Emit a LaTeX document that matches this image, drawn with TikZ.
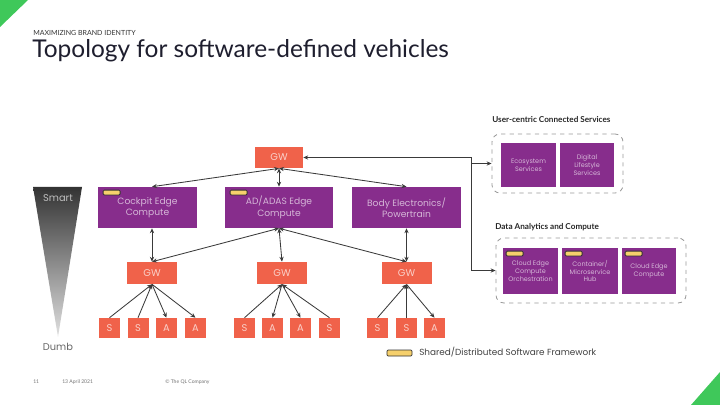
\documentclass[tikz,border=0pt]{standalone}
\usepackage{fontspec}
\setmainfont{Lato}
\newfontfamily\labelfont{Poppins}
\usetikzlibrary{arrows.meta}
\definecolor{gwred}{HTML}{F0624A}
\definecolor{ecupurple}{HTML}{872D8C}
\definecolor{baryellow}{HTML}{F6D06C}
\definecolor{cornergreen}{HTML}{3FC85A}
\definecolor{linkgray}{HTML}{3A3A3A}
\definecolor{titleink}{HTML}{1E1E2E}
\tikzset{
  >={Stealth[length=3.5pt,width=3pt]},
  link/.style={draw=linkgray, line width=0.6pt},
  gw/.style={fill=gwred, text=gwred!30!white, font=\labelfont\fontsize{7}{8}\selectfont,
    minimum width=1.2cm, minimum height=0.53cm, inner sep=0pt},
  leaf/.style={gw, minimum width=0.525cm, minimum height=0.5cm},
  ecu/.style={fill=ecupurple, text=ecupurple!35!white, align=center, inner sep=0pt,
    font=\labelfont\fontsize{6.5}{8}\selectfont, minimum height=1.025cm},
  svc/.style={ecu, font=\labelfont\fontsize{4.6}{5.6}\selectfont, minimum height=1.1cm},
  swbar/.style={draw=black!80, fill=baryellow, line width=0.6pt, rounded corners=0.8pt,
    anchor=north west, inner sep=0pt, minimum width=0.425cm, minimum height=0.12cm},
  zone/.style={draw=black!40, dashed, line width=0.6pt, rounded corners=0.2cm},
  zonelabel/.style={font=\bfseries\fontsize{5.8}{7}\selectfont, text=black!85, inner sep=0pt},
  footer/.style={font=\fontsize{3.6}{4}\selectfont, text=black!55, inner sep=0pt},
}
\begin{document}
\begin{tikzpicture}[x=0.025cm, y=-0.025cm]
  \useasboundingbox (0,0) rectangle (720,405);
  % corner marks
  \fill[cornergreen] (0,0) -- (28,0) -- (0,27) -- cycle;
  \fill[cornergreen] (691,405) -- (720,372) -- (720,405) -- cycle;
  % heading
  \node[anchor=base west, inner sep=0pt, font=\fontsize{5}{6}\selectfont, text=black!80] (kicker) at (33,36) {MAXIMIZING BRAND IDENTITY};
  \node[anchor=base west, inner sep=0pt, font=\fontsize{17.4}{20}\selectfont, text=titleink] (title) at (32,58) {Topology for software-defined vehicles};
  % smart / dumb scale
  \shade[top color=black!80, bottom color=black!12] (33,187) -- (82,187) -- (58,337) -- cycle;
  \node[font=\labelfont\fontsize{7}{8}\selectfont, text=white!75!black] (smart) at (58,198) {Smart};
  \node[font=\labelfont\fontsize{7}{8}\selectfont, text=black!60] (dumb) at (58,347) {Dumb};
  % central gateway and domain controllers
  \node[gw] (topgw) at (279,157.5) {GW};
  \node[ecu, minimum width=2.475cm] (cockpit) at (147.5,207.5) {Cockpit Edge\\Compute};
  \node[ecu, minimum width=2.7cm] (adas) at (279,207.5) {AD/ADAS Edge\\Compute};
  \node[ecu, minimum width=2.725cm] (body) at (406.5,207.5) {Body Electronics/\\Powertrain};
  \node[swbar] (cockpitbar) at ([shift={(5,3)}]cockpit.north west) {};
  \node[swbar] (adasbar) at ([shift={(5,3)}]adas.north west) {};
  % zone gateways
  \node[gw, minimum width=1.25cm, minimum height=0.55cm] (gwleft) at (152,273) {GW};
  \node[gw, minimum width=1.25cm, minimum height=0.55cm] (gwmid) at (282,273) {GW};
  \node[gw, minimum width=1.25cm, minimum height=0.55cm] (gwright) at (406.5,273) {GW};
  % sensors and actuators
  \node[leaf] (l1) at (109.5,328) {S};
  \node[leaf] (l2) at (138,328) {S};
  \node[leaf] (l3) at (166.5,328) {A};
  \node[leaf] (l4) at (195.5,328) {A};
  \node[leaf] (m1) at (244.5,328) {S};
  \node[leaf] (m2) at (272.5,328) {A};
  \node[leaf] (m3) at (300.5,328) {A};
  \node[leaf] (m4) at (329.5,328) {S};
  \node[leaf] (r1) at (377.5,328) {S};
  \node[leaf] (r2) at (406.5,328) {S};
  \node[leaf] (r3) at (434.5,328) {A};
  % links
  \draw[link, <->] (topgw.south) -- (gwleft.north |- cockpit.north);
  \draw[link, <->] (topgw.south) -- (adas.north);
  \draw[link, <->] (topgw.south) -- (gwright.north |- body.north);
  \draw[link, <->] (cockpit.south -| gwleft.north) -- (gwleft.north);
  \draw[link, <->] (adas.south) -- (gwleft.north);
  \draw[link, <->] (adas.south) -- (gwmid.north);
  \draw[link, <->] (adas.south) -- (gwright.north);
  \draw[link, <->] (body.south -| gwright.north) -- (gwright.north);
  \draw[link, ->] (l1.north) -- (gwleft.south);
  \draw[link, ->] (l2.north) -- (gwleft.south);
  \draw[link, ->] (gwleft.south) -- (l3.north);
  \draw[link, ->] (gwleft.south) -- (l4.north);
  \draw[link, ->] (m1.north) -- (gwmid.south);
  \draw[link, ->] (gwmid.south) -- (m2.north);
  \draw[link, ->] (gwmid.south) -- (m3.north);
  \draw[link, ->] (m4.north) -- (gwmid.south);
  \draw[link, ->] (r1.north) -- (gwright.south);
  \draw[link, ->] (r2.north) -- (gwright.south);
  \draw[link, ->] (gwright.south) -- (r3.north);
  % cloud side
  \node[zonelabel, anchor=base west] (userlabel) at (492,123) {User-centric Connected Services};
  \node[zone, minimum width=3.275cm, minimum height=1.475cm] (userzone) at (557.5,163.5) {};
  \node[svc, minimum width=1.375cm] (ecosys) at (528.5,165) {Ecosystem\\Services};
  \node[svc, minimum width=1.35cm] (lifestyle) at (587,165) {Digital\\Lifestyle\\Services};
  \node[zonelabel, anchor=base west] (datalabel) at (495,230) {Data Analytics and Compute};
  \node[zone, minimum width=4.75cm, minimum height=1.625cm] (datazone) at (591,270.5) {};
  \node[svc, minimum width=1.375cm, minimum height=1.15cm] (orchestr) at (530.5,271) {Cloud Edge\\Compute\\Orchestration};
  \node[svc, minimum width=1.4cm, minimum height=1.15cm] (microhub) at (590,271) {Container/\\Microservice\\Hub};
  \node[svc, minimum width=1.35cm, minimum height=1.15cm] (edgecomp) at (649,271) {Cloud Edge\\Compute};
  \node[swbar] (orchestrbar) at ([shift={(3,3)}]orchestr.north west) {};
  \node[swbar] (microhubbar) at ([shift={(3,3)}]microhub.north west) {};
  \node[swbar] (edgecompbar) at ([shift={(3,3)}]edgecomp.north west) {};
  \coordinate (cloudsplit) at (471,157.5);
  \draw[link, ->] (cloudsplit) -- (topgw.east);
  \draw[link, ->] (cloudsplit) |- (userzone.west);
  \draw[link, ->] (cloudsplit) |- (datazone.west);
  % legend
  \node[swbar, anchor=center, minimum width=0.625cm, minimum height=0.15cm] (legendbar) at (399.5,353) {};
  \node[anchor=west, inner sep=0pt, font=\labelfont\fontsize{6.3}{7}\selectfont, text=black!75] (legendtext) at (419,352.5) {Shared/Distributed Software Framework};
  % footer
  \node[footer, anchor=base west] (pagenum) at (33,383) {11};
  \node[footer, anchor=base west] (date) at (62,383) {13 April 2021};
  \node[footer, anchor=base west] (owner) at (165,383) {\textcopyright{} The QL Company};
\end{tikzpicture}
\end{document}
